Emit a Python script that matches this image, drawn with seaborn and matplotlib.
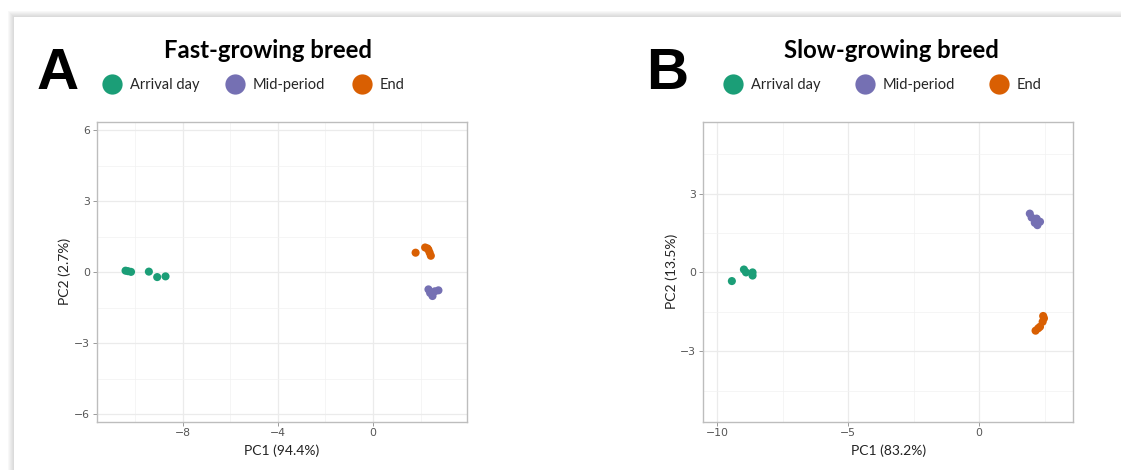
import matplotlib
matplotlib.use("Agg")
import matplotlib.pyplot as plt
from matplotlib.patches import Rectangle
import seaborn as sns
import pandas as pd

# ---------------- data ----------------
groups = ["Arrival day", "Mid-period", "End"]
colors = ["#1B9E77", "#7570B3", "#D95F02"]

A_arrival_pc1 = [-10.4, -10.3, -10.17, -9.42, -9.07, -8.72]
A_arrival_pc2 = [0.07, 0.05, 0.02, 0.03, -0.20, -0.17]
A_mid_pc1 = [2.33, 2.40, 2.50, 2.60, 2.75]
A_mid_pc2 = [-0.72, -0.87, -1.00, -0.80, -0.76]
A_end_pc1 = [1.79, 2.19, 2.29, 2.33, 2.38, 2.43]
A_end_pc2 = [0.83, 1.05, 1.01, 0.95, 0.83, 0.70]

B_arrival_pc1 = [-9.44, -8.98, -8.90, -8.65, -8.65]
B_arrival_pc2 = [-0.33, 0.11, 0.00, 0.00, -0.12]
B_mid_pc1 = [1.93, 2.00, 2.12, 2.19, 2.22, 2.32]
B_mid_pc2 = [2.24, 2.09, 1.89, 2.05, 1.80, 1.93]
B_end_pc1 = [2.15, 2.25, 2.32, 2.42, 2.44, 2.47]
B_end_pc2 = [-2.22, -2.13, -2.07, -1.88, -1.66, -1.75]

A_title = "Fast-growing breed"
B_title = "Slow-growing breed"
A_xlabel, A_ylabel = "PC1 (94.4%)", "PC2 (2.7%)"
B_xlabel, B_ylabel = "PC1 (83.2%)", "PC2 (13.5%)"
A_xticks, A_yticks = [-8, -4, 0], [-6, -3, 0, 3, 6]
B_xticks, B_yticks = [-10, -5, 0], [-3, 0, 3]


def frame(pc1s, pc2s):
    rows = []
    for g, xs, ys in zip(groups, pc1s, pc2s):
        for x, y in zip(xs, ys):
            rows.append({"PC1": x, "PC2": y, "group": g})
    return pd.DataFrame(rows)


dfA = frame([A_arrival_pc1, A_mid_pc1, A_end_pc1], [A_arrival_pc2, A_mid_pc2, A_end_pc2])
dfB = frame([B_arrival_pc1, B_mid_pc1, B_end_pc1], [B_arrival_pc2, B_mid_pc2, B_end_pc2])

# ---------------- figure ----------------
sns.set_theme(style="white")
plt.rcParams["font.family"] = ["DejaVu Sans"]
W, H = 1121, 470
fig = plt.figure(figsize=(W / 100, H / 100), dpi=100)
fig.patch.set_facecolor("white")

# shadowed frame
shades = ["#F8F8F8", "#F2F2F2", "#ECECEC", "#E6E6E6", "#E0E0E0", "#DBDBDB"]
for i, c in enumerate(shades):
    fig.add_artist(Rectangle(((8 + i * 0.9) / W, 0), 1.2, 1 - (11 + i) / H,
                             transform=fig.transFigure, facecolor=c,
                             edgecolor="none", zorder=-20 + i))
fig.add_artist(Rectangle((13.5 / W, 0), 1.2, 1 - 17 / H, transform=fig.transFigure,
                         facecolor="white", edgecolor="none", zorder=-10))

palette = dict(zip(groups, colors))


def panel(df, left_px, xlim, ylim, xticks, yticks, xminor, yminor, xlabel, ylabel):
    ax = fig.add_axes([left_px / W, 1 - 421.5 / H, 370 / W, 299.5 / H])
    sns.scatterplot(data=df, x="PC1", y="PC2", hue="group", hue_order=groups,
                    palette=palette, s=34, linewidth=0, ax=ax, legend=True, zorder=3)
    ax.set_xlim(*xlim)
    ax.set_ylim(*ylim)
    ax.set_xticks(xticks)
    ax.set_yticks(yticks)
    ax.set_xticks(xminor, minor=True)
    ax.set_yticks(yminor, minor=True)
    ax.set_xticklabels([str(t).replace("-", "\u2212") for t in xticks])
    ax.set_yticklabels([str(t).replace("-", "\u2212") for t in yticks])
    ax.set_axisbelow(True)
    ax.grid(which="major", color="#EBEBEB", lw=0.9)
    ax.grid(which="minor", color="#F2F2F2", lw=0.5)
    for sp in ax.spines.values():
        sp.set_color("#BDBDBD")
        sp.set_linewidth(1.0)
    ax.tick_params(which="major", direction="out", length=3, width=0.7,
                   color="#9A9A9A", labelsize=7.8, labelcolor="#555555", pad=2,
                   bottom=True, left=True)
    ax.tick_params(which="minor", length=0)
    ax.set_xlabel(xlabel, family="Lato", fontsize=10, color="#222222", labelpad=4)
    ax.set_ylabel(ylabel, family="Lato", fontsize=10, color="#222222", labelpad=2)
    return ax


axA = panel(dfA, 97, (-11.6, 3.95), (-6.3, 6.35), A_xticks, A_yticks,
            [-10, -6, -2, 2], [-4.5, -1.5, 1.5, 4.5], A_xlabel, A_ylabel)
axB = panel(dfB, 703.3, (-10.53, 3.59), (-5.68, 5.73), B_xticks, B_yticks,
            [-7.5, -2.5, 2.5], [-4.5, -1.5, 1.5, 4.5], B_xlabel, B_ylabel)

for ax, lx, cs in [(axA, 105, 1.97), (axB, 725.7, 2.55)]:
    sns.move_legend(ax, "center left", bbox_to_anchor=(lx / W, 1 - 85 / H),
                    bbox_transform=fig.transFigure, ncol=3, frameon=False,
                    title=None, markerscale=2.5, handlelength=1.0,
                    handletextpad=0.71, columnspacing=cs, borderpad=0,
                    borderaxespad=0, prop={"family": "Lato", "size": 10.5})

# titles and panel letters
fig.text(268 / W, 1 - 58 / H, A_title, ha="center", va="baseline",
         family="Lato", weight="bold", fontsize=17.2, color="black")
fig.text(891 / W, 1 - 58 / H, B_title, ha="center", va="baseline",
         family="Lato", weight="bold", fontsize=17.2, color="black")
fig.text(37 / W, 1 - 89 / H, "A", ha="left", va="baseline",
         family="Liberation Sans", weight="bold", fontsize=42, color="black")
fig.text(646 / W, 1 - 89 / H, "B", ha="left", va="baseline",
         family="Liberation Sans", weight="bold", fontsize=42, color="black")

fig.savefig("out.png", dpi=100)
